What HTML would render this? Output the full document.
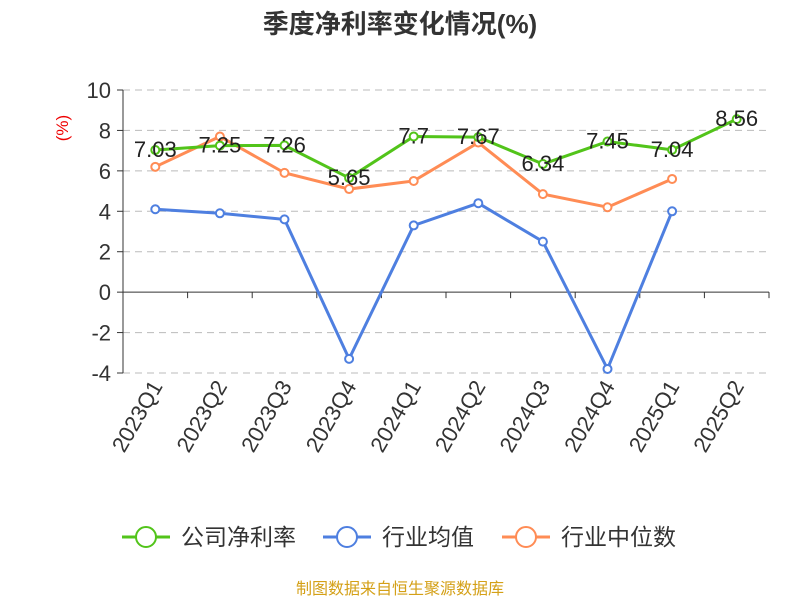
<!DOCTYPE html>
<html><head><meta charset="utf-8"><style>
body{margin:0;background:#fff;font-family:"Liberation Sans","Noto Sans CJK SC",sans-serif;}
</style></head><body>
<svg width="800" height="600" viewBox="0 0 800 600" font-family="Liberation Sans, Noto Sans CJK SC, sans-serif">
<text x="400" y="33" text-anchor="middle" font-size="26" font-weight="bold" fill="#333">季度净利率变化情况(%)</text>
<text x="68" y="128" text-anchor="middle" font-size="17" fill="#e00" transform="rotate(-90 68 128)">(%)</text>
<g id="grid"></g><g id="axes"></g><g id="series"></g>
<g>
<g><line x1="122" y1="537" x2="170" y2="537" stroke="#52c41a" stroke-width="3"/><circle cx="146" cy="537" r="10" fill="#fff" stroke="#52c41a" stroke-width="2"/><text x="181" y="545" font-size="23" fill="#333">公司净利率</text></g>
<g><line x1="323" y1="537" x2="371" y2="537" stroke="#4e7fe0" stroke-width="3"/><circle cx="347" cy="537" r="10" fill="#fff" stroke="#4e7fe0" stroke-width="2"/><text x="382" y="545" font-size="23" fill="#333">行业均值</text></g>
<g><line x1="502" y1="537" x2="550" y2="537" stroke="#ff8c55" stroke-width="3"/><circle cx="526" cy="537" r="10" fill="#fff" stroke="#ff8c55" stroke-width="2"/><text x="561" y="545" font-size="23" fill="#333">行业中位数</text></g>
</g>
<text x="400" y="594" text-anchor="middle" font-size="16" fill="#d4a017">制图数据来自恒生聚源数据库</text>
</svg>
<script>
const categories=["2023Q1","2023Q2","2023Q3","2023Q4","2024Q1","2024Q2","2024Q3","2024Q4","2025Q1","2025Q2"];
const companyValues=[7.03,7.25,7.26,5.65,7.7,7.67,6.34,7.45,7.04,8.56];
const industryAvg=[4.1,3.9,3.6,-3.3,3.3,4.4,2.5,-3.8,4.0,null];
const industryMedian=[6.2,7.7,5.9,5.1,5.5,7.4,4.85,4.2,5.6,null];
const yTicks=[10,8,6,4,2,0,-2,-4];
const NS="http://www.w3.org/2000/svg";
const x0=123,x1=769,yTop=90,yBot=373,yMax=10,yMin=-4;
const band=(x1-x0)/categories.length;
function xs(i){return x0+band*(i+0.5);}
function ys(v){return yTop+(yMax-v)/(yMax-yMin)*(yBot-yTop);}
function mk(tag,attrs,parent){const e=document.createElementNS(NS,tag);for(const k in attrs)e.setAttribute(k,attrs[k]);parent.appendChild(e);return e;}
const grid=document.getElementById('grid'),axes=document.getElementById('axes'),series=document.getElementById('series');
yTicks.forEach(t=>{
 const y=ys(t);
 if(t!==0){const l=mk('line',{x1:x0,x2:x1,y1:y,y2:y,stroke:'#bbb','stroke-dasharray':'7,5'},grid);
 
 }
 mk('line',{x1:x0-6,x2:x0,y1:y,y2:y,stroke:'#333'},axes);
 const tx=mk('text',{x:x0-12,y:y+8,'text-anchor':'end','font-size':22,fill:'#333'},axes);tx.textContent=t;
 
 
});
const ya=mk('line',{x1:x0,x2:x0,y1:yTop,y2:yBot,stroke:'#333'},axes);


const xa=mk('line',{x1:x0,x2:x1,y1:ys(0),y2:ys(0),stroke:'#333'},axes);


for(let i=0;i<=categories.length;i++){const x=x0+band*i;mk('line',{x1:x,x2:x,y1:ys(0),y2:ys(0)+6,stroke:'#333'},axes);}
categories.forEach((c,i)=>{
 const x=xs(i)+8,y=386;
 const t=mk('text',{x:x,y:y,'text-anchor':'end','font-size':22,fill:'#333',transform:`rotate(-60 ${x} ${y})`},axes);t.textContent=c;
 
 
});
function draw(vals,color,name,labels){
 const pts=[];vals.forEach((v,i)=>{if(v!==null)pts.push([xs(i),ys(v),v]);});
 const p=mk('polyline',{points:pts.map(p=>p[0]+','+p[1]).join(' '),fill:'none',stroke:color,'stroke-width':3},series);
 
 
 pts.forEach(q=>{
  const c=mk('circle',{cx:q[0],cy:q[1],r:4,fill:'#fff',stroke:color,'stroke-width':2},series);
  
  
  if(labels){const t=mk('text',{x:q[0],y:q[1]+7,'text-anchor':'middle','font-size':22,fill:'#222'},series);t.textContent=q[2];
  
  }
 });
}
draw(industryAvg,'#4e7fe0','industry-avg',false);
draw(industryMedian,'#ff8c55','industry-median',false);
draw(companyValues,'#52c41a','company',true);
</script>
</body></html>
